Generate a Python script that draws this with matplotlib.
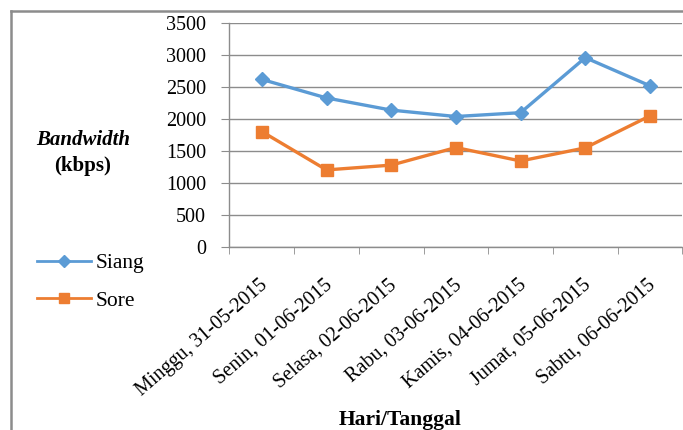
import matplotlib.pyplot as plt
from matplotlib.lines import Line2D
from matplotlib.transforms import ScaledTranslation

days = ['Minggu, 31-05-2015', 'Senin, 01-06-2015', 'Selasa, 02-06-2015',
        'Rabu, 03-06-2015', 'Kamis, 04-06-2015', 'Jumat, 05-06-2015',
        'Sabtu, 06-06-2015']
siang = [2615, 2325, 2135, 2035, 2095, 2955, 2515]
sore = [1800, 1200, 1275, 1550, 1340, 1545, 2045]
yticks = [0, 500, 1000, 1500, 2000, 2500, 3000, 3500]

plt.rcParams['font.family'] = ['Liberation Serif', 'DejaVu Serif']

fig = plt.figure(figsize=(6.83, 4.30), dpi=100)
ax = fig.add_axes([0.336, 0.4263, 0.663, 0.5207])

x = list(range(len(days)))
l1, = ax.plot(x, siang, color='#5B9BD5', linewidth=2.4, marker='D', markersize=7.5, label='Siang')
l2, = ax.plot(x, sore, color='#ED7D31', linewidth=2.4, marker='s', markersize=8.5, label='Sore')

ax.set_xlim(-0.5, 6.5)
ax.set_ylim(0, 3500)
ax.set_yticks(yticks)
ax.set_yticklabels([str(v) for v in yticks], fontsize=14.5)
ax.grid(axis='y', color='#8c8c8c', linewidth=1.0)
ax.set_axisbelow(True)

ax.set_xticks(x)
ax.set_xticklabels(days, fontsize=14.5, rotation=41, ha='right', va='center', rotation_mode='anchor')
ax.set_xticks([i - 0.5 for i in range(len(days) + 1)], minor=True)
ax.tick_params(axis='x', which='major', length=0, pad=26)
ax.tick_params(axis='x', which='minor', length=5, color='#8c8c8c', direction='out')
ax.tick_params(axis='y', length=6, color='#8c8c8c', pad=11)
for lab in ax.get_xticklabels():
    lab.set_transform(lab.get_transform() + ScaledTranslation(3 / 100, 0, fig.dpi_scale_trans))

for s in ['top', 'right']:
    ax.spines[s].set_visible(False)
for s in ['left', 'bottom']:
    ax.spines[s].set_color('#8c8c8c')
    ax.spines[s].set_linewidth(1.0)

fig.text(83 / 683, 1 - 140 / 430, 'Bandwidth', fontsize=15, fontweight='bold', fontstyle='italic',
         ha='center', va='center')
fig.text(83 / 683, 1 - 166 / 430, '(kbps)', fontsize=15, fontweight='bold', ha='center', va='center')
fig.text(400 / 683, 1 - 420 / 430, 'Hari/Tanggal', fontsize=15.5, fontweight='bold', ha='center', va='center')

fig.legend(handles=[l1, l2], loc='upper left', bbox_to_anchor=(18 / 683, 1 - 234 / 430),
           frameon=False, fontsize=15.5, handlelength=2.5, handletextpad=0.2, labelspacing=0.8,
           markerscale=0.8)
for h in fig.legends[0].legend_handles:
    h.set_linewidth(2.0)

# border
fig.add_artist(Line2D([11 / 683, 11 / 683], [0, 1 - 11 / 430], color='#8c8c8c', linewidth=1.8))
fig.add_artist(Line2D([11 / 683, 1], [1 - 11 / 430, 1 - 11 / 430], color='#8c8c8c', linewidth=1.8))

fig.savefig('out.png', dpi=100)
